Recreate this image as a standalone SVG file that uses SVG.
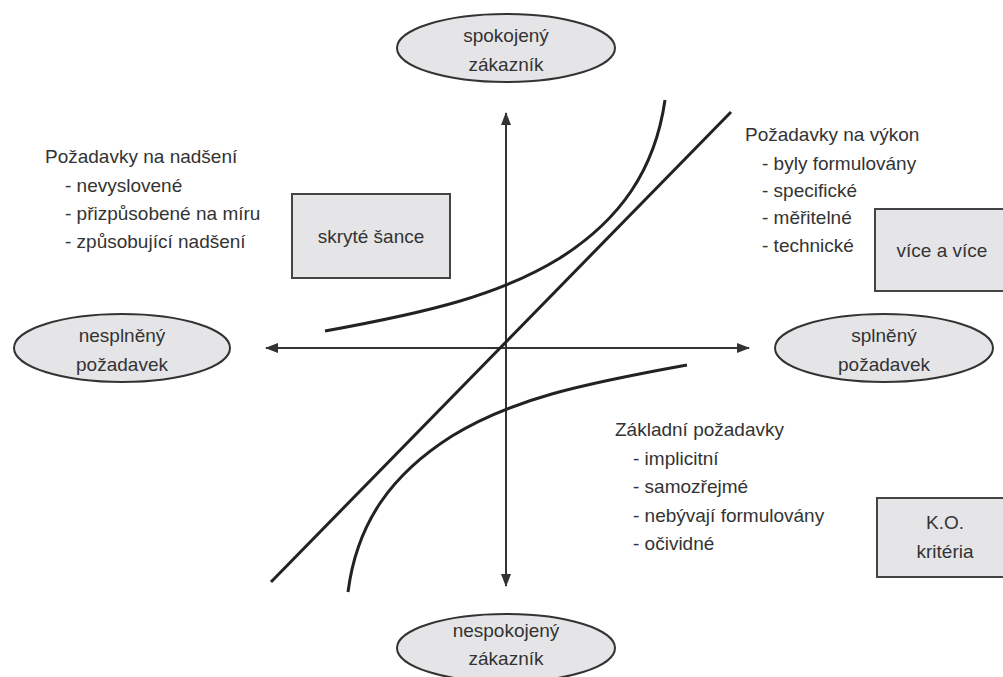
<svg xmlns="http://www.w3.org/2000/svg" width="1003" height="677" viewBox="0 0 1003 677">
<style>
text{font-family:"Liberation Sans",Arial,sans-serif;font-size:19px;fill:#333}
.c{text-anchor:middle}
.ell{fill:#e5e5e7;stroke:#333;stroke-width:2}
.box{fill:#e5e5e7;stroke:#444;stroke-width:2}
.ax{stroke:#333;stroke-width:2;fill:none}
.ln{stroke:#222;stroke-width:3;fill:none}
</style>
<defs>
<marker id="ah" viewBox="0 0 13 10" refX="12" refY="5" markerWidth="13" markerHeight="10" markerUnits="userSpaceOnUse" orient="auto">
<path d="M0,0 L13,5 L0,10 Z" fill="#333"/>
</marker>
</defs>
<rect width="1003" height="677" fill="#fff"/>
<g id="connectors">
<line class="ax" x1="506" y1="348" x2="266" y2="348" marker-end="url(#ah)"/>
<line class="ax" x1="506" y1="348" x2="749" y2="348" marker-end="url(#ah)"/>
<line class="ax" x1="506" y1="348" x2="506" y2="113" marker-end="url(#ah)"/>
<line class="ax" x1="506" y1="348" x2="506" y2="586" marker-end="url(#ah)"/>
<line class="ln" x1="271" y1="582" x2="731" y2="112"/>
<path class="ln" d="M325,331 C430,312 500,295 560,258 C620,220 655,170 665,100"/>
<path class="ln" d="M687,365 C582,384 512,399 452,436 C392,474 357,522 348,592"/>
</g>
<g id="top">
<ellipse class="ell" cx="506" cy="48" rx="109" ry="34"/>
<text class="c" x="506" y="42">spokojený</text>
<text class="c" x="506" y="71">zákazník</text>
</g>
<g id="left">
<ellipse class="ell" cx="122" cy="348" rx="108" ry="34"/>
<text class="c" x="122" y="342">nesplněný</text>
<text class="c" x="122" y="371">požadavek</text>
</g>
<g id="right">
<ellipse class="ell" cx="884" cy="348" rx="109" ry="34"/>
<text class="c" x="884" y="342">splněný</text>
<text class="c" x="884" y="371">požadavek</text>
</g>
<g id="bottom">
<ellipse class="ell" cx="506" cy="648" rx="109" ry="34"/>
<text class="c" x="506" y="637">nespokojený</text>
<text class="c" x="506" y="665">zákazník</text>
</g>
<g id="nadseni">
<text x="45" y="163">Požadavky na nadšení</text>
<text x="65" y="192">- nevyslovené</text>
<text x="65" y="220">- přizpůsobené na míru</text>
<text x="65" y="248">- způsobující nadšení</text>
</g>
<g id="vykon">
<text x="745" y="141">Požadavky na výkon</text>
<text x="762" y="170">- byly formulovány</text>
<text x="762" y="197">- specifické</text>
<text x="762" y="224">- měřitelné</text>
<text x="762" y="252">- technické</text>
</g>
<g id="zakladni">
<text x="615" y="436">Základní požadavky</text>
<text x="633" y="465">- implicitní</text>
<text x="633" y="493">- samozřejmé</text>
<text x="633" y="522">- nebývají formulovány</text>
<text x="633" y="550">- očividné</text>
</g>
<g id="skryte">
<rect class="box" x="292" y="194" width="158" height="84"/>
<text class="c" x="371" y="243">skryté šance</text>
</g>
<g id="vice">
<rect class="box" x="875" y="209" width="140" height="82"/>
<text class="c" x="942" y="257">více a více</text>
</g>
<g id="ko">
<rect class="box" x="877" y="498" width="140" height="79"/>
<text class="c" x="945" y="529">K.O.</text>
<text class="c" x="945" y="558">kritéria</text>
</g>
</svg>
